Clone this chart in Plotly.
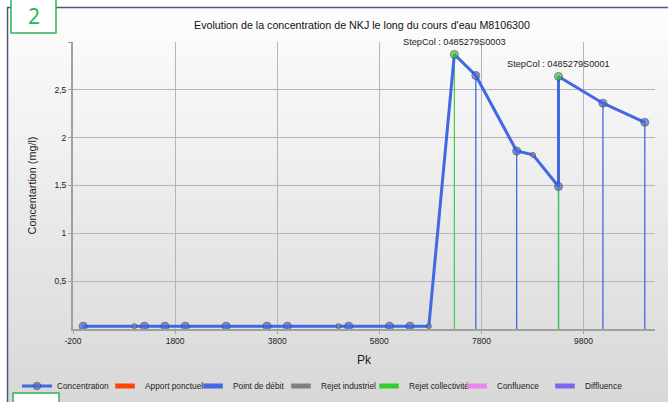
import plotly.graph_objects as go

# ---------------- data ----------------
pk = [0, 1000, 1200, 1600, 2000, 2800, 3600, 4000, 5000, 5200, 6000, 6400, 6770,
      7270, 7690, 8490, 8810, 9310, 9310, 10180, 11000]
conc = [0.03, 0.03, 0.03, 0.03, 0.03, 0.03, 0.03, 0.03, 0.03, 0.03, 0.03, 0.03, 0.03,
        2.87, 2.65, 1.86, 1.82, 1.49, 2.64, 2.36, 2.16]
# point type: "debit" = Point de débit, "coll" = Rejet collectivité, "calc" = intermediate point
ptype = ["debit", "calc", "debit", "debit", "debit", "debit", "debit", "debit", "calc", "debit",
         "debit", "debit", "calc", "coll", "debit", "debit", "calc", "debit", "coll", "debit", "debit"]
step_labels = {13: "StepCol : 0485279S0003", 18: "StepCol : 0485279S0001"}

legend_names = ["Apport ponctuel", "Point de débit", "Rejet industriel", "Rejet collectivité",
                "Confluence", "Diffluence"]
legend_colors = ["#FF4500", "#4169E1", "#808080", "#32CD32", "#EE82EE", "#7B68EE"]

x_tickvals = [-200, 1800, 3800, 5800, 7800, 9800]
y_tickvals = [0.5, 1, 1.5, 2, 2.5, 3]
y_ticktext = ["0,5", "1", "1,5", "2", "2,5", ""]

title = "Evolution de la concentration de NKJ le long du cours d'eau M8106300"

# ---------------- geometry helpers ----------------
W, H = 668, 402
L, R, T, B = 73, 655, 42, 329


def px(xp):
    return (xp - L) / (R - L)


def py(yp):
    return (B - yp) / (B - T)


FONT = "Liberation Sans, Arial, sans-serif"
fig = go.Figure()

# stems (vertical lines down to the axis)
for kind, col, wid in [("debit", "#4169E1", 1.3), ("coll", "#32CD32", 1.1)]:
    xs, ys = [], []
    for x, y, t in zip(pk, conc, ptype):
        if t == kind:
            xs += [x, x, None]
            ys += [0, y, None]
    fig.add_trace(go.Scatter(x=xs, y=ys, mode="lines", line=dict(color=col, width=wid),
                             showlegend=False, hoverinfo="skip"))

sizes = [5 if t == "calc" else 8 for t in ptype]
fills = ["#32CD32" if t == "coll" else ("#6f86c6" if t == "calc" else "#4169E1") for t in ptype]
fig.add_trace(go.Scatter(
    x=pk, y=conc, mode="lines+markers", name="Concentration",
    line=dict(color="#4169E1", width=3),
    marker=dict(size=sizes, color=fills, line=dict(color="#4a4a4a", width=1)),
))

for name, col in zip(legend_names, legend_colors):
    fig.add_trace(go.Scatter(
        x=[None], y=[None], mode="markers", name=name,
        marker=dict(symbol="line-ew", size=14, line=dict(color=col, width=8)),
    ))

for i, txt in step_labels.items():
    fig.add_annotation(x=pk[i], y=conc[i], text=txt, showarrow=False, yanchor="bottom",
                       xanchor="center", yshift=5, font=dict(family=FONT, size=9.2, color="#222"))

# background gradient bands (frame area)
shapes = []
n = 40
y_top, y_bot = 7, 402
for k in range(n):
    y0 = y_top + (y_bot - y_top) * k / n
    y1 = y_top + (y_bot - y_top) * (k + 1) / n
    f = k / (n - 1)
    g = int(round(253 - (253 - 216) * f))
    shapes.append(dict(type="rect", xref="paper", yref="paper", x0=px(7), x1=px(W + 2),
                       y0=py(y1 + 0.5), y1=py(y0), line=dict(width=0),
                       fillcolor=f"rgb({g},{g},{g})", layer="below"))
# dark frame lines
shapes.append(dict(type="line", xref="paper", yref="paper", x0=px(7.5), x1=px(7.5),
                   y0=py(7), y1=py(H + 2), line=dict(color="#4a5a78", width=1.5), layer="above"))
shapes.append(dict(type="line", xref="paper", yref="paper", x0=px(7), x1=px(W + 2),
                   y0=py(7.5), y1=py(7.5), line=dict(color="#4a5a78", width=1.5), layer="above"))
# green boxes
shapes.append(dict(type="rect", xref="paper", yref="paper", x0=px(11), x1=px(56),
                   y0=py(33), y1=py(-2), line=dict(color="#2cb55a", width=1.5),
                   fillcolor="white", layer="above"))
shapes.append(dict(type="rect", xref="paper", yref="paper", x0=px(13), x1=px(59),
                   y0=py(405), y1=py(393), line=dict(color="#2cb55a", width=1.5),
                   fillcolor="white", layer="above"))

fig.add_annotation(xref="paper", yref="paper", x=px(33.5), y=py(16.5), text="2", showarrow=False,
                   xanchor="center", yanchor="middle",
                   font=dict(family="Noto Sans, sans-serif", size=21, color="#2cb55a"))
fig.add_annotation(xref="paper", yref="paper", x=px(362), y=py(25), text=title, showarrow=False,
                   xanchor="center", yanchor="middle",
                   font=dict(family=FONT, size=10.7, color="#111"))

fig.update_layout(
    width=W, height=H, autosize=False,
    margin=dict(l=L, r=W - R, t=T, b=H - B, pad=0, autoexpand=False),
    paper_bgcolor="white", plot_bgcolor="rgba(0,0,0,0)",
    shapes=shapes,
    font=dict(family=FONT, size=9, color="#222"),
    legend=dict(orientation="h", x=px(17), xanchor="left", y=py(386), yanchor="middle",
                entrywidth=43, bgcolor="rgba(0,0,0,0)", font=dict(size=8.3),
                itemwidth=30, tracegroupgap=0),
    xaxis=dict(range=[-200, 11200], tickvals=x_tickvals, ticktext=[str(v) for v in x_tickvals],
               showgrid=True, gridcolor="#b5b5b5", gridwidth=1, zeroline=False,
               showline=True, linecolor="#a0a0a0", linewidth=2, ticks="outside", ticklen=3,
               tickcolor="#a0a0a0", tickfont=dict(size=8.5), automargin=False,
               title=dict(text="Pk", font=dict(size=12), standoff=10)),
    yaxis=dict(range=[0, 3], tickvals=y_tickvals, ticktext=y_ticktext,
               showgrid=True, gridcolor="#b5b5b5", gridwidth=1, zeroline=False,
               showline=True, linecolor="#a0a0a0", linewidth=2, ticks="outside", ticklen=3,
               tickcolor="#a0a0a0", tickfont=dict(size=8.5), automargin=False,
               title=dict(text="Concentartion (mg/l)", font=dict(size=10.8), standoff=16)),
    showlegend=True,
)

fig.write_html("out.html", config={"displayModeBar": False},
               post_script="document.body.style.margin='0';document.body.style.overflow='hidden';")
